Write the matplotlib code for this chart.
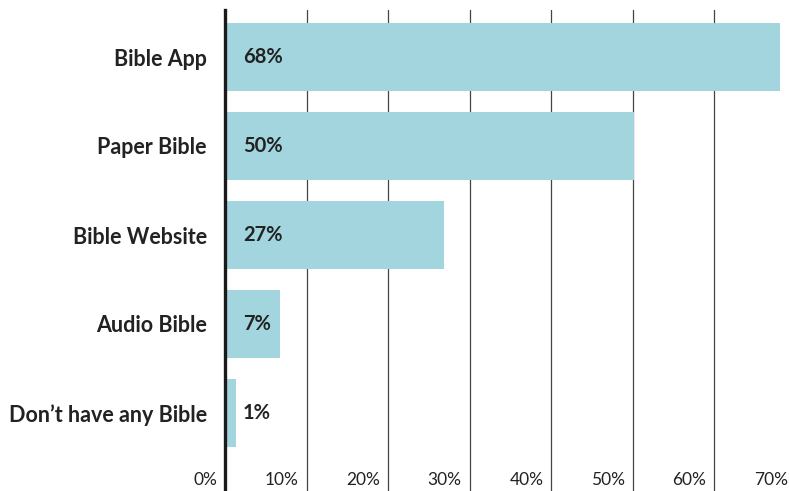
import matplotlib.pyplot as plt
import matplotlib.transforms as mtransforms

categories = ["Bible App", "Paper Bible", "Bible Website", "Audio Bible", "Don\u2019t have any Bible"]
values = [68.0, 50.2, 26.8, 6.7, 1.4]
value_labels = ["68%", "50%", "27%", "7%", "1%"]
ticks = [0, 10, 20, 30, 40, 50, 60, 70]
tick_labels = ["0%", "10%", "20%", "30%", "40%", "50%", "60%", "70%"]

plt.rcParams['font.family'] = ['Lato', 'DejaVu Sans']
ink = "#222222"

fig = plt.figure(figsize=(7.89, 4.91), dpi=100)
# axes runs a bit past the right edge, so the 70% line falls just outside
ax = fig.add_axes([225/789, 0, 571/789, 481/491])

pos = list(range(len(categories)))
ax.barh(pos, values, height=0.76, color="#a2d5dd", zorder=2)

ax.set_xlim(0, 70)
ax.set_ylim(4 + 78/89, -47/89)

ax.set_xticks(ticks)
ax.tick_params(axis='x', length=0, labelbottom=False)
ax.grid(axis='x', color="#444444", linewidth=0.9, zorder=1)

ax.set_yticks(pos)
ax.set_yticklabels(categories, fontsize=15.5, fontweight='bold', color=ink)
ax.tick_params(axis='y', length=0, pad=13)

for s in ["top", "right", "bottom"]:
    ax.spines[s].set_visible(False)
ax.spines["left"].set_linewidth(2.4)
ax.spines["left"].set_color("#1a1a1a")
ax.spines["left"].set_zorder(3)

for p, lab in zip(pos, value_labels):
    ax.text(2.2, p, lab, fontsize=14.5, fontweight='bold', color=ink,
            ha='left', va='center', zorder=4)

trans = mtransforms.blended_transform_factory(ax.transData, ax.transAxes)
off = mtransforms.offset_copy(trans, fig=fig, x=-8, y=0, units='dots')
for t, lab in zip(ticks, tick_labels):
    ax.text(t, 0.012, lab, fontsize=12.5, color=ink, ha='right', va='baseline',
            transform=off, clip_on=False)

fig.savefig("out.png", dpi=100)
